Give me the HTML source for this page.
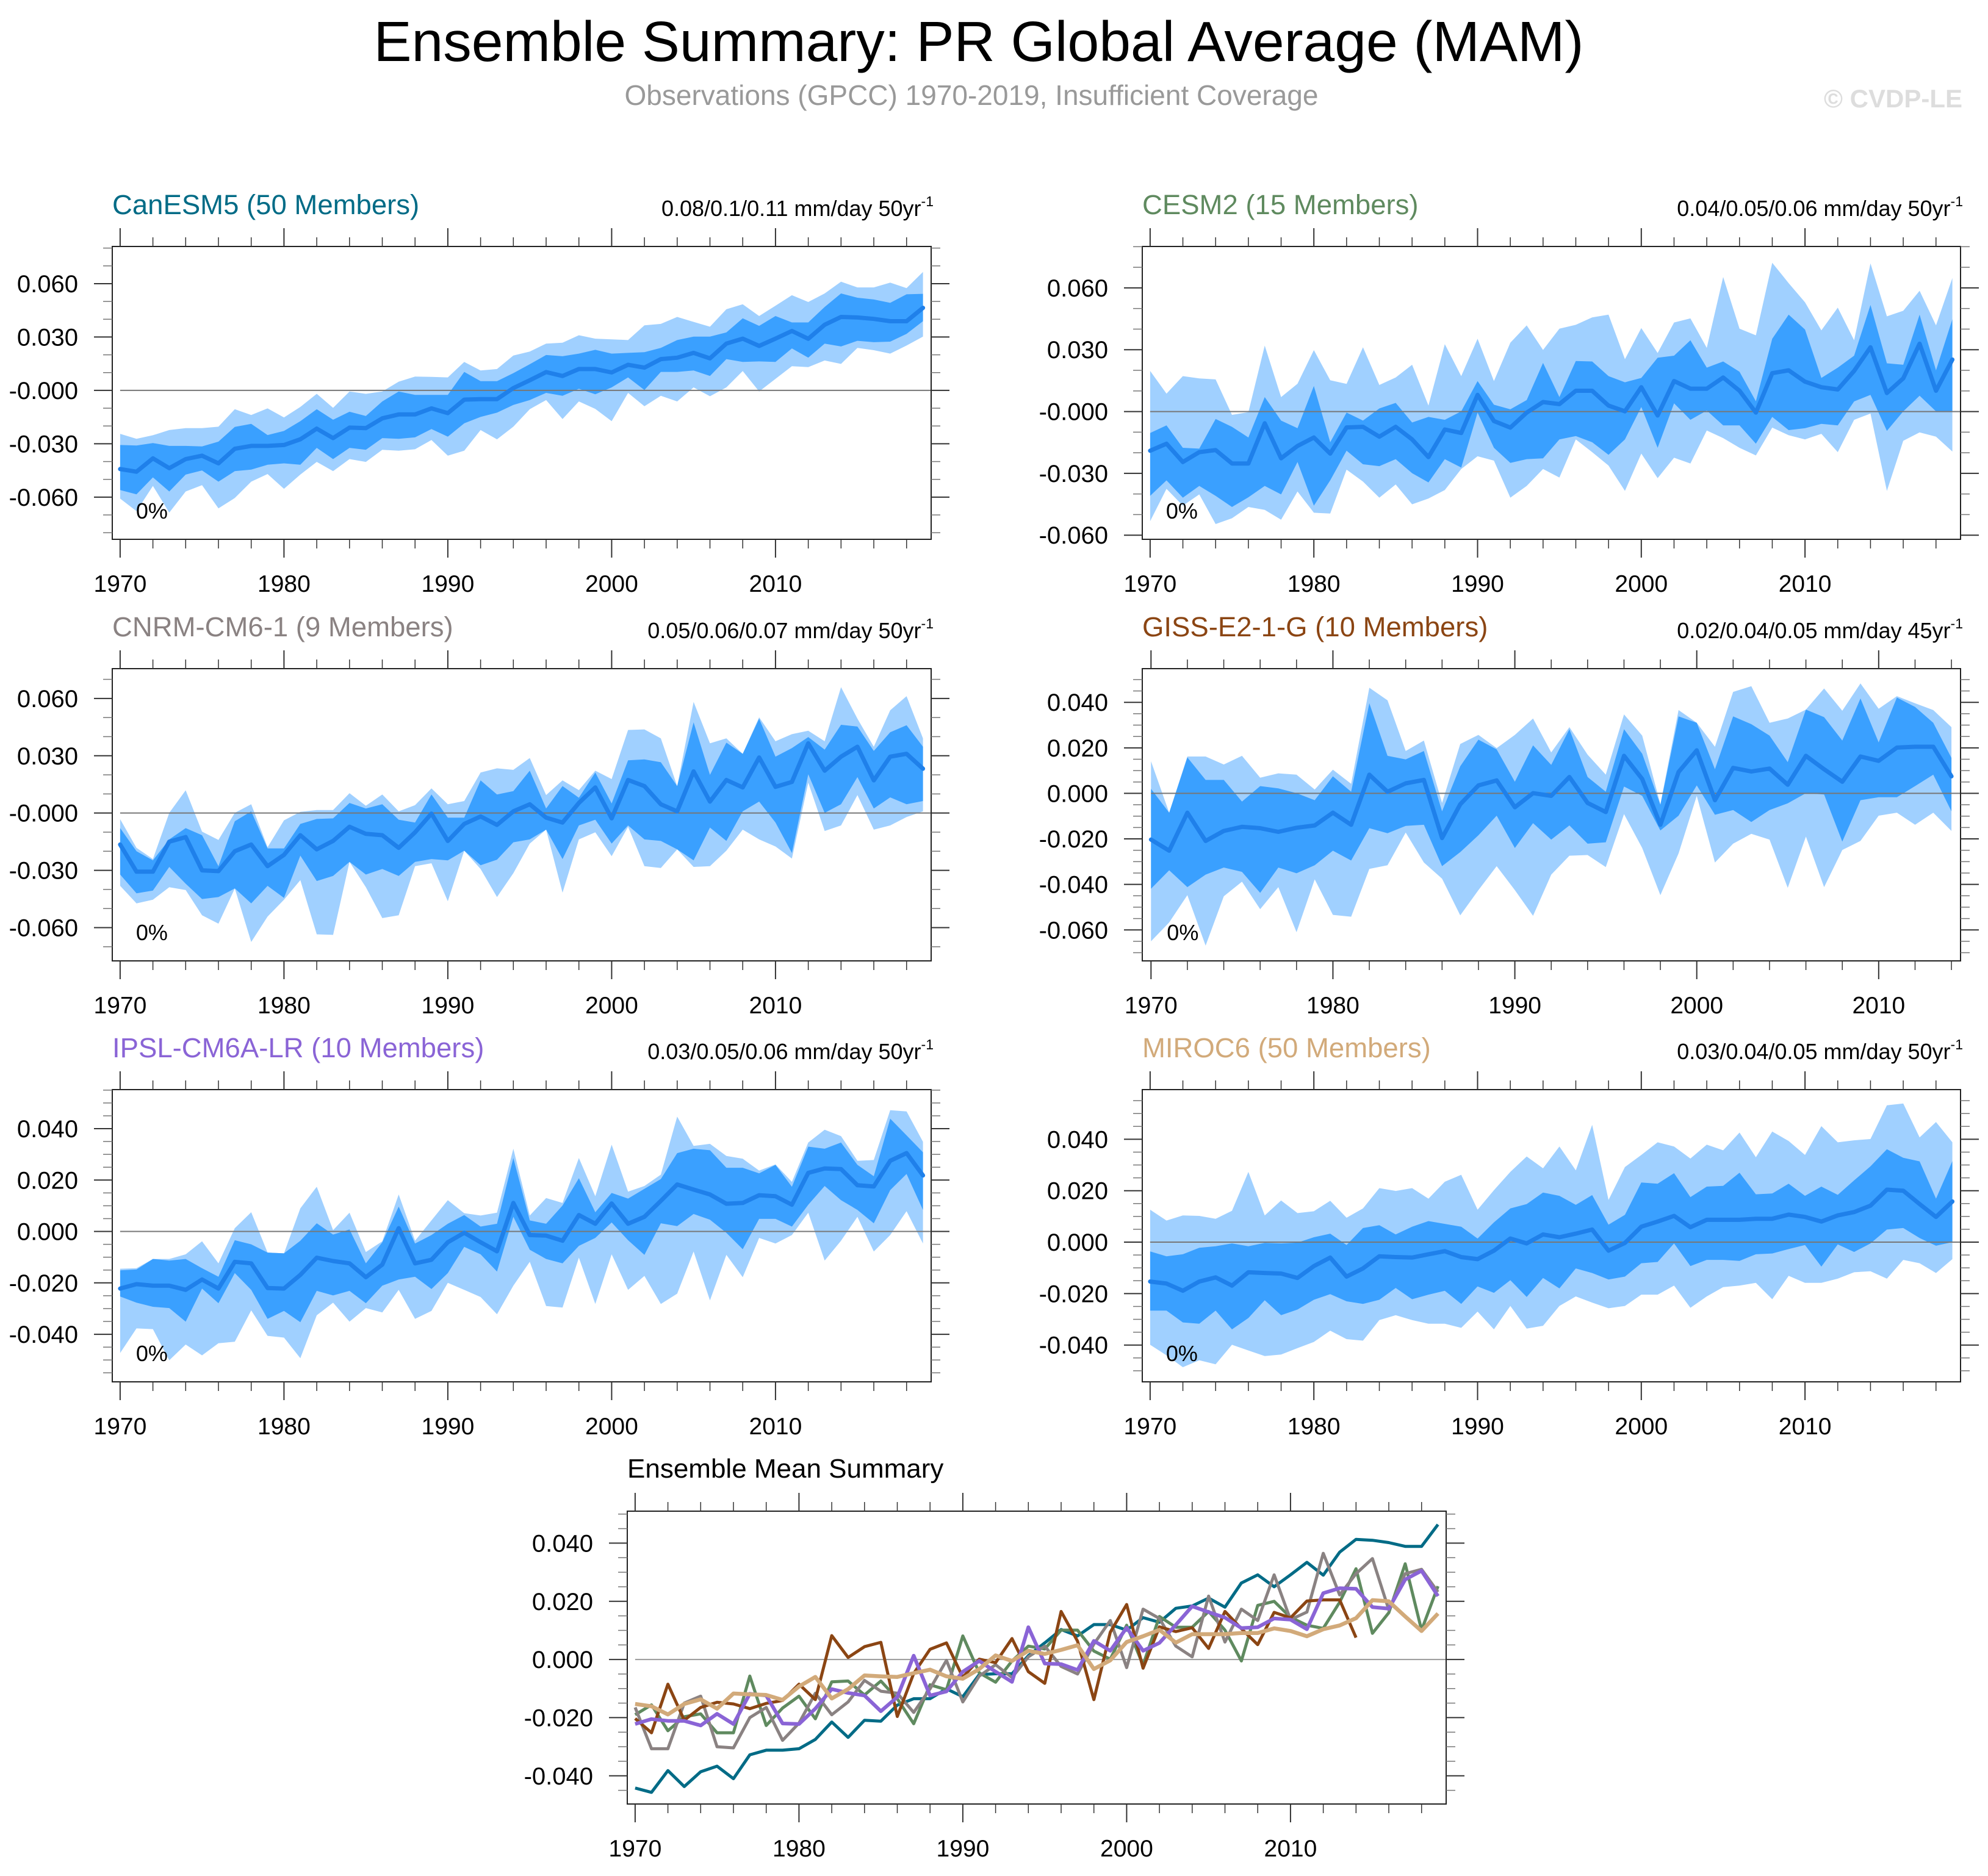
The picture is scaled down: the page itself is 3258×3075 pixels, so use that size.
<!DOCTYPE html>
<html><head><meta charset="utf-8"><title>Ensemble Summary: PR Global Average (MAM)</title>
<style>html,body{margin:0;padding:0;background:#fff}svg{display:block;font-family:"Liberation Sans",Arial,sans-serif}</style>
</head><body>
<svg id="chart" xmlns="http://www.w3.org/2000/svg" width="3258" height="3075" viewBox="0 0 3258 3075">
<rect x="0" y="0" width="3258" height="3075" fill="#fff"/>
<text x="1604" y="100" font-size="93" text-anchor="middle" fill="#000">Ensemble Summary: PR Global Average (MAM)</text>
<text x="1592" y="172" font-size="46" text-anchor="middle" fill="#999">Observations (GPCC) 1970-2019, Insufficient Coverage</text>
<text x="3216" y="176" font-size="42" font-weight="bold" text-anchor="end" fill="#ddd">© CVDP-LE</text>
</svg>
<script>
// Values in 1e-3 mm/day
const years = [1970,1971,1972,1973,1974,1975,1976,1977,1978,1979,1980,1981,1982,1983,1984,1985,1986,1987,1988,1989,1990,1991,1992,1993,1994,1995,1996,1997,1998,1999,2000,2001,2002,2003,2004,2005,2006,2007,2008,2009,2010,2011,2012,2013,2014,2015,2016,2017,2018,2019];
const xTickLabels = ["1970","1980","1990","2000","2010"];

const canMean = [-44.2,-45.7,-38.2,-43.7,-38.6,-36.7,-41.0,-32.8,-31.2,-31.2,-30.7,-27.5,-21.5,-26.8,-20.9,-21.2,-15.7,-13.5,-13.5,-10.1,-12.8,-5.2,-4.9,-4.9,1.3,5.7,10.3,8.1,12.0,12.0,10.1,14.4,12.8,17.6,18.4,21.1,18.0,26.3,29.1,25.0,29.1,33.4,29.0,36.9,41.3,41.0,40.2,38.9,38.9,46.4];
const canInHi = [-30.7,-31,-29.6,-31.2,-31.2,-31.5,-28.8,-20.5,-18.8,-25.1,-22.8,-17.3,-10.6,-16.5,-12,-14.4,-6.2,-0.6,-2.5,-2.5,-2.5,10.4,5.2,5.2,9.7,14.7,19.9,19.2,20.7,22.8,20.7,21.1,21.5,23.9,28.3,30.2,30.2,32.6,40.5,36.3,41.8,38.2,38.2,46.9,54.5,52.1,51.1,49.2,54,54.3];
const canInLo = [-56,-58.4,-48.9,-56.8,-47.3,-45,-51.3,-45.4,-44.5,-41.8,-41,-41.8,-32.3,-38.6,-32.3,-33.4,-26.8,-27.2,-26.4,-21.7,-26,-18.5,-14.9,-12.5,-8.2,-5.4,-1.4,-3,0.9,-2.2,1.7,7.3,0.2,10.4,10.4,11.2,8.1,17.6,16,16.3,16,23.6,18.4,26.3,24.7,27.9,27.1,27.4,31.8,38.9];
const canOutHi = [-24.4,-27.2,-25.2,-22.3,-21.2,-21.2,-20.4,-10.6,-13.8,-10.1,-15.2,-9.3,-1.9,-9.8,-0.6,-1.9,-0.6,4.9,7.8,7.6,7.3,16,11.2,12,19.6,21.8,26.3,26.8,31,29.1,28.7,28.3,36.6,37.4,41.3,38.5,35.8,45.6,48.4,41.8,47.6,53.5,49.7,54.5,61.1,57.9,57.9,60.6,57.5,66.6];
const canOutLo = [-60.8,-67.9,-53.7,-68.7,-56.8,-53.3,-66.3,-60.5,-51.3,-47,-55.3,-47.3,-40.2,-45.4,-38.6,-40.2,-33.4,-33.9,-33.1,-27.9,-36.7,-33.9,-22.3,-27.5,-20.4,-10.6,-5.4,-16.1,-6.2,-10.4,-17.3,-1.4,-8.9,-3,-6.2,1.7,-3.3,1.7,10.9,-0.6,6.5,13.6,13.1,16.8,14.9,23.9,22.6,20.7,25.2,30.2];

const cesmMean = [-19,-15.6,-24.5,-19.7,-18.7,-25.2,-25.2,-5.7,-22.7,-16.7,-12.6,-20.4,-7.7,-7.4,-12.2,-7.4,-13.5,-22.1,-8.7,-10.4,8.1,-4.6,-7.8,-0.5,4.6,3.6,10.1,10.1,2.9,0.1,11.8,-1.9,14.8,11.1,11.1,16.5,10.1,-0.5,18.6,20,14.5,11.8,10.7,19.7,31.2,9,16.1,32.9,10.1,25.2];
const cesmInHi = [-10.4,-6.7,-17.6,-18,-3.6,-7.4,-12.6,7,-4.4,-8.1,12.4,-14.9,-0.5,-4.4,1.5,4.2,-5.3,-2.6,-4,0.1,14.8,3.3,1.1,5.6,23.6,7,24.5,24.3,17.2,14.2,16.3,26.1,27.1,34.6,21.3,24.3,19.3,5,35.3,47,39.8,16.3,21.3,27.1,51.7,23.4,22.7,47,20,44.8];
const cesmInLo = [-40.9,-33.4,-41.8,-36.1,-40.9,-46.3,-41.6,-36.1,-40.2,-24.5,-45.7,-33.4,-19,-25.6,-26.5,-23.1,-29.9,-34.4,-23.1,-27.2,-0.5,-17.6,-24.9,-23.1,-22.7,-13.5,-11.9,-14.9,-21,-13.5,2.2,-17.6,4,-4,0.5,-6.7,-6.7,-15.6,-2.6,-9,-8.1,-6,-6.7,4.9,8.1,-9.4,0.1,7.7,0.1,0.1];
const cesmOutHi = [19.7,8.7,17.2,16.1,15.6,-1.6,-0.3,32,7,13.5,29.8,15.2,13.4,31.2,12.9,16.5,22.7,2.9,32.7,17.2,35.3,14.8,33.4,41.8,29.9,40.2,42.1,45.7,47,25.4,40.5,28.4,43.2,45.2,30.9,65.3,40.2,37,72.2,62.3,53,39.4,50.4,34.6,71.9,46.2,48.9,58.6,41.8,64.8];
const cesmOutLo = [-53.2,-37.5,-45.7,-40.2,-54.6,-51.8,-46.3,-47.7,-52.5,-38.8,-49.1,-49.5,-28.2,-34,-41.8,-35.4,-45,-42.2,-38.1,-27.9,-21.7,-23.8,-41.8,-36.1,-27.9,-32,-13.5,-19.7,-26.2,-38.5,-20.4,-32.3,-22.4,-25.2,-9.2,-12.9,-17.6,-21.3,-7.8,-11.5,-13.5,-10.8,-19.7,-4,-1,-38.5,-14.2,-10.1,-12.2,-19.4];

const cnrmMean = [-16.5,-30.7,-30.7,-15,-12.6,-30,-30.4,-20,-16.5,-27.8,-21.9,-11.6,-19,-14.6,-7.2,-10.9,-11.6,-18.2,-10.1,-0.3,-14.6,-5.7,-1.8,-6.2,0.9,4.6,-2.4,-5,5.3,13.4,-2.8,17.3,14.1,4.6,0.9,21.8,6,17.3,13.4,29.1,13.7,16.3,36.5,22.2,29.5,34.7,17.1,29.5,31,23.2];
const cnrmInHi = [-7.9,-20,-24.8,-13.8,-7.9,-11.6,-27.8,-4.3,0.9,-18.5,-18.5,-5.7,-3.1,-2.8,5.3,2.4,4.6,-3.5,-5,9.7,-2.4,-2.4,17.1,9.7,11.5,22.2,2.4,14.1,8,21.2,5,27.6,28.1,26.6,14.1,47.5,20,36.9,31,49.4,29.5,34,39.8,33.2,46.2,45.3,32.5,42.3,46,34.7];
const cnrmInLo = [-32.2,-42,-40.6,-28.2,-37,-45,-44,-39.5,-47.3,-38.1,-44.4,-22.3,-35.6,-32.9,-25.6,-32.2,-29.3,-32.9,-25.6,-24.1,-24.8,-19.7,-27.3,-24.4,-15.3,-13.8,-8.7,-24.1,-6.5,-3.5,-16,-6.5,-13.8,-14.6,-19,-24.8,-7.6,-14.6,0.9,6,-5,-20.9,20.3,0.1,4.6,18.8,2.4,8.2,4.6,6.3];
const cnrmOutHi = [-3.2,-18.2,-24.1,0.1,11.9,-9.7,-14.1,0.1,4.6,-17.9,-3.8,0.6,1.6,1.6,10.4,3.8,9.7,0.9,4.1,12.9,4.6,6.3,21.2,23.4,22.6,28.8,9.4,17.1,12,22.2,17.8,43.5,43.8,39.1,14.1,58.2,36.5,39.1,31,50.1,37.6,41.3,43.1,37.6,65.9,49.4,34.7,53.8,61.2,39.1];
const cnrmOutLo = [-38.1,-47.3,-45.4,-38.8,-40.3,-53.5,-57.9,-39.5,-67.5,-54.2,-45.4,-35.1,-63.5,-63.8,-25.6,-38.8,-55,-53.5,-27.8,-26.3,-46.2,-19.7,-29.3,-44,-31.5,-16,-8.7,-41.7,-13.8,-10.1,-22.6,-7.2,-27.8,-28.8,-19,-28.2,-27.8,-19.7,-8.7,-13.8,-17.5,-23.8,15.9,-9.4,-6.5,9.4,-8.7,-6.5,-2.1,0.9];

const gissMean = [-20.3,-25.2,-8.5,-20.9,-16.5,-14.7,-15.3,-16.9,-15.1,-14.1,-8.5,-13.8,8.2,0.7,4.4,5.9,-19.6,-4.8,3.5,5.7,-6.1,0.1,-1.1,7.2,-4.2,-8.2,16.5,6.3,-13.8,9.4,18.9,-3,11.2,9.6,10.9,3.8,16.5,10.6,5.1,16.2,14.3,20.1,20.5,20.5,7.5];
const gissInHi = [2,-8.5,15.8,5.9,5.9,-3.6,3.2,2.2,0.1,-3,7.5,0.7,39.6,16.5,14.9,18.6,-7.9,11.9,23.6,19.3,5.1,21.1,12.5,28.2,7.2,0.7,28.2,17.4,-5,33.8,31,10.6,33.8,30.4,25.4,13.7,36.8,33.5,23.2,41.7,22.4,42.1,38,31,15.6];
const gissInLo = [-41.9,-33.8,-41.2,-35.7,-32.6,-34.5,-43.7,-32.6,-35.1,-31.6,-25.2,-29.5,-15.3,-17.5,-14.3,-13.8,-32,-25.8,-18.4,-9.8,-24,-13.1,-20.3,-14.1,-22.1,-21.5,3,-1.1,-16.3,-9.8,3.5,-9.4,-7.3,-12.6,-7.3,-4.4,0.1,-0.5,-21.2,-3,-1.7,-1.7,3.2,8.2,-7.9];
const gissOutHi = [14.1,-8.5,16.2,16.2,12.7,16.5,6.9,8.8,8.2,1.7,10.4,4.2,46.4,40.9,18.6,23.2,-4.2,21.7,25.7,19.9,25.7,32.9,18,29.1,17,8.2,34.7,25.4,-4.8,36.6,31,20.5,44.6,47.1,31,32.9,36.8,46.1,36.3,48.3,37.2,42.7,39.6,36.6,29.1];
const gissOutLo = [-65,-56.7,-44.7,-66.9,-45.2,-38.8,-50.9,-41.2,-61,-37.8,-53.4,-54.2,-33.2,-31.6,-17.2,-30.4,-37.5,-53.6,-42.5,-32,-42.5,-53.8,-35.7,-27.4,-27.1,-32.4,-9.1,-24,-44.7,-26.4,-1.1,-30.4,-22.1,-17.8,-20.3,-41.5,-19,-41.2,-24.9,-20.9,-9.8,-8.5,-13.8,-8.5,-16.5];

const ipslMean = [-22.2,-20.5,-21.1,-21.1,-22.7,-18.7,-22.2,-11.8,-12.4,-22,-22.2,-16.9,-10.2,-11.5,-12.4,-17.8,-12.9,1.3,-12.4,-11,-4.2,-0.5,-4.2,-7.7,11.1,-1.4,-1.6,-3.6,6.4,3,10.9,3,5.7,11.9,18.3,16.3,14.4,10.8,11.1,14.1,13.7,10.4,22.8,24.5,24.3,18,17.5,27.5,30.5,21.8];
const ipslInHi = [-15.1,-14.8,-10.7,-11.3,-10.7,-14.3,-17.6,-3.4,-5,-8.2,-8.5,-3.6,3.2,-1.2,0.8,-12.4,-4.2,9.7,-4.7,-1.4,3,6.4,1.9,3,28.6,4.3,3,10.1,20.7,7.5,15,12.8,16.6,20.4,30.5,32.2,31.6,24.8,24.8,22.6,25.9,17.4,33,32.2,34.6,25.9,21.5,43.9,37.4,30.8];
const ipslInLo = [-25.3,-27.7,-29.3,-29.8,-35.1,-22.2,-27.9,-16.2,-22.7,-34,-30.9,-35.3,-23.1,-24.9,-23.1,-27.9,-21.1,-18.7,-17.6,-22.4,-16.2,-6,-8.9,-15.6,5.7,-7.1,-10.7,-12.4,-5.6,-2.5,3.5,-3.4,-9.1,3.2,2.1,6.8,4.6,-0.5,-6.9,4.9,4.9,1.9,10.4,17.7,12.2,8.4,3.2,16.1,22.4,8.4];
const ipslOutHi = [-14.5,-14.3,-10.7,-10.7,-8.9,-3.8,-12.4,1.3,7.5,-8.2,-8.5,9,17.4,0.5,7.3,-8,-3.8,14.4,-3.6,4.3,12.2,7.1,6.2,7.3,32.2,6.2,13,11.1,28.6,13.7,33.8,15.5,17.7,22.1,44.7,33.3,34.1,29.4,28.3,23.7,26.1,19.3,34.6,39.6,37.1,27.5,27.8,47.2,46.7,34.9];
const ipslOutLo = [-47.3,-37.7,-38,-50.1,-44,-48.2,-43.5,-42.9,-30.7,-40.6,-41.3,-49.3,-32.6,-27.7,-35.1,-29.8,-31.5,-22.7,-34,-30.9,-20,-22.7,-25.5,-32.2,-21.1,-11.8,-29,-29.6,-10.2,-28.2,-8.9,-22.7,-17.3,-28.2,-24.2,-7.8,-26.8,-9.1,-17.8,-2.5,-4.7,-1.4,7.3,-11.3,-3.6,5.7,-7.8,-1.4,7.9,-4.7];

const mirocMean = [-15.3,-16.1,-18.9,-15.3,-13.7,-16.9,-11.7,-12,-12.2,-13.9,-9.3,-6,-13.4,-10.2,-5.5,-5.8,-6,-4.7,-3.5,-5.8,-6.6,-3.3,1.4,-0.5,3,1.9,3.3,4.9,-3.3,-0.3,6,8,10.2,5.8,8.7,8.7,8.7,9.1,9.1,10.7,9.8,8,10.4,11.7,14.2,20.4,20,14.8,9.8,15.8];
const mirocInHi = [-3.6,-5.5,-4.7,-2.2,-1.6,-0.5,-1.6,-0.3,-0.5,-0.2,1.9,3.3,-1.1,5.5,6.6,3,6,8.2,7.1,6,1.4,7.7,13.1,14.8,19.3,18,14.5,18.3,6.8,10.6,23.2,22.7,26.8,17.5,21.6,21.9,27,18.6,18.9,22.7,18,21.6,18.4,24,29.5,36.1,32.8,31.4,16.9,31.5];
const mirocInLo = [-26.6,-26.6,-31.2,-31.7,-26.6,-33.9,-29.5,-22.6,-28.4,-26.2,-22.4,-20.2,-23,-24,-22.4,-17.8,-22.2,-20.4,-18.9,-24,-17.2,-19.7,-14.8,-21.3,-13.9,-18,-10.2,-12,-14.5,-13.4,-8.2,-7.7,-0.5,-9.3,-6.9,-6.9,-7.3,-4.7,-4.4,-2.7,-1.1,-9.5,-0.9,-3.8,-0.5,4.9,5.5,1.6,-1.4,0];
const mirocOutHi = [12.6,8.4,10.4,10.2,9.1,12.2,27.3,10.4,16.2,11.3,12,16.1,9.5,13.1,21,19.9,21,16.9,23.5,26.2,12.6,20.2,27.3,33.3,28.7,37.2,27.9,45.6,16.4,29.2,33.9,38.8,37.2,32.5,37.9,35.7,42.6,33,43,39.3,33.9,45.1,38.8,39.6,40.1,53.2,53.9,40.7,46.7,38.8];
const mirocOutLo = [-39.9,-44,-48.6,-45.9,-47.5,-39.9,-42.1,-44.3,-43.7,-41.2,-38.8,-34.4,-37.7,-38.3,-30.3,-28.4,-30.3,-31.7,-31.7,-33.3,-27,-33.9,-24.8,-33.6,-32.5,-24.8,-21.1,-23.5,-25.7,-24.8,-20.4,-20.4,-16.9,-25.5,-21.1,-17.5,-16.9,-15.8,-22.2,-13.1,-15.8,-15.8,-14.2,-11.7,-11.3,-14.2,-6.9,-8.2,-12,-6.6];

const ticks3 = [60,30,0,-30,-60];
const ticks3Labels = ["0.060","0.030","-0.000","-0.030","-0.060"];
const ticks2 = [40,20,0,-20,-40,-60];
const ticks2Labels = ["0.040","0.020","0.000","-0.020","-0.040","-0.060"];
const ticksB = [40,20,0,-20,-40];
const ticksBLabels = ["0.040","0.020","0.000","-0.020","-0.040"];

const NS = "http://www.w3.org/2000/svg";
const svg = document.getElementById('chart');
function el(tag, attrs, parent, text){
  const e = document.createElementNS(NS, tag);
  for (const k in attrs) e.setAttribute(k, attrs[k]);
  if (text !== undefined) e.textContent = text;
  (parent || svg).appendChild(e);
  return e;
}
const LIGHT = "#a0d0ff", DARK = "#3aa0ff", MEANC = "#1f80ea";

const panels = [
  {name:"canesm5", title:"CanESM5 (50 Members)", color:"#006b86", note:"0.08/0.1/0.11 mm/day 50yr", L:184, T:404, R:1526, B:884, ymin:-83.7, ymax:80.9, ticks:ticks3, labels:ticks3Labels, minor:10, mean:canMean, inHi:canInHi, inLo:canInLo, outHi:canOutHi, outLo:canOutLo},
  {name:"cesm2", title:"CESM2 (15 Members)", color:"#5f8a5f", note:"0.04/0.05/0.06 mm/day 50yr", L:1872, T:404, R:3213, B:884, ymin:-62.0, ymax:80.1, ticks:ticks3, labels:ticks3Labels, minor:10, mean:cesmMean, inHi:cesmInHi, inLo:cesmInLo, outHi:cesmOutHi, outLo:cesmOutLo},
  {name:"cnrm-cm6-1", title:"CNRM-CM6-1 (9 Members)", color:"#8a8282", note:"0.05/0.06/0.07 mm/day 50yr", L:184, T:1096, R:1526, B:1575, ymin:-77.4, ymax:75.6, ticks:ticks3, labels:ticks3Labels, minor:10, mean:cnrmMean, inHi:cnrmInHi, inLo:cnrmInLo, outHi:cnrmOutHi, outLo:cnrmOutLo},
  {name:"giss-e2-1-g", title:"GISS-E2-1-G (10 Members)", color:"#8b4513", note:"0.02/0.04/0.05 mm/day 45yr", L:1872, T:1096, R:3213, B:1575, ymin:-73.6, ymax:54.8, ticks:ticks2, labels:ticks2Labels, minor:5, mean:gissMean, inHi:gissInHi, inLo:gissInLo, outHi:gissOutHi, outLo:gissOutLo},
  {name:"ipsl-cm6a-lr", title:"IPSL-CM6A-LR (10 Members)", color:"#8a64d6", note:"0.03/0.05/0.06 mm/day 50yr", L:184, T:1786, R:1526, B:2265, ymin:-58.5, ymax:55.2, ticks:ticks2.slice(0,5), labels:ticks2Labels.slice(0,5), minor:5, mean:ipslMean, inHi:ipslInHi, inLo:ipslInLo, outHi:ipslOutHi, outLo:ipslOutLo},
  {name:"miroc6", title:"MIROC6 (50 Members)", color:"#d2aa7a", note:"0.03/0.04/0.05 mm/day 50yr", L:1872, T:1786, R:3213, B:2265, ymin:-54.3, ymax:59.3, ticks:ticks2.slice(0,5), labels:ticks2Labels.slice(0,5), minor:5, mean:mirocMean, inHi:mirocInHi, inLo:mirocInLo, outHi:mirocOutHi, outLo:mirocOutLo}
];

function drawAxes(g, p, xs, ys, lastYear){
  const TK = "#333";
  for (let yr = 1970; yr <= lastYear; yr += 2) {
    const major = (yr % 10 === 0);
    const len = major ? 30 : 15;
    const x = xs(yr);
    const t1 = el('line', {x1:x, y1:p.B, x2:x, y2:p.B+len, stroke:TK, 'stroke-width':major?2:1.5}, g);
    
    
    const t2 = el('line', {x1:x, y1:p.T, x2:x, y2:p.T-len, stroke:TK, 'stroke-width':major?2:1.5}, g);
    
    
  }
  xTickLabels.forEach(lbl => {
    const yr = +lbl;
    if (yr > lastYear) return;
    const t = el('text', {x:xs(yr), y:p.B+86, 'font-size':39, 'text-anchor':'middle', fill:'#000'}, g, lbl);
    
    
  });
  const start = Math.ceil(p.ymin / p.minor) * p.minor;
  for (let v = start; v <= p.ymax; v += p.minor) {
    if (p.ticks.indexOf(v) >= 0) continue;
    const y = ys(v);
    const a = el('line', {x1:p.L-15, y1:y, x2:p.L, y2:y, stroke:'#777', 'stroke-width':1.5}, g);
    
    
    const b = el('line', {x1:p.R, y1:y, x2:p.R+15, y2:y, stroke:'#777', 'stroke-width':1.5}, g);
    
    
  }
  p.ticks.forEach((v, i) => {
    const y = ys(v);
    const a = el('line', {x1:p.L-30, y1:y, x2:p.L, y2:y, stroke:TK, 'stroke-width':2}, g);
    
    
    const b = el('line', {x1:p.R, y1:y, x2:p.R+30, y2:y, stroke:TK, 'stroke-width':2}, g);
    
    
    const t = el('text', {x:p.L-56, y:y+14, 'font-size':40, 'text-anchor':'end', fill:'#000'}, g, p.labels[i]);
    
    
  });
}

panels.forEach(p => {
  const g = el('g', {});
  
  
  const n = p.mean.length;
  const first = years[0], last = years[n-1];
  const x0 = first - 0.48, x1 = last + 0.5;
  const xs = yr => p.L + (yr - x0) / (x1 - x0) * (p.R - p.L);
  const ys = v => p.T + (p.ymax - v) / (p.ymax - p.ymin) * (p.B - p.T);
  function band(hi, lo, fill, nm){
    let pts = [];
    for (let i = 0; i < n; i++) pts.push(xs(years[i]).toFixed(1) + ',' + ys(hi[i]).toFixed(1));
    for (let i = n-1; i >= 0; i--) pts.push(xs(years[i]).toFixed(1) + ',' + ys(lo[i]).toFixed(1));
    const e = el('polygon', {points:pts.join(' '), fill:fill}, g);
    
    
  }
  band(p.outHi, p.outLo, LIGHT, 'outer-range-band');
  band(p.inHi, p.inLo, DARK, 'inner-range-band');
  const z = el('line', {x1:xs(first), y1:ys(0), x2:p.R, y2:ys(0), stroke:'#777', 'stroke-width':2}, g);
  
  
  const pts = [];
  for (let i = 0; i < n; i++) pts.push(xs(years[i]).toFixed(1) + ',' + ys(p.mean[i]).toFixed(1));
  const ml = el('polyline', {points:pts.join(' '), fill:'none', stroke:MEANC, 'stroke-width':7, 'stroke-linejoin':'round', 'stroke-linecap':'round'}, g);
  
  
  const fr = el('rect', {x:p.L, y:p.T, width:p.R-p.L, height:p.B-p.T, fill:'none', stroke:'#222', 'stroke-width':2}, g);
  
  
  drawAxes(g, p, xs, ys, last);
  const pc = el('text', {x:xs(first)+26, y:p.B-34, 'font-size':36, fill:'#000'}, g, '0%');
  
  
  const tt = el('text', {x:p.L, y:p.T-53, 'font-size':45.5, fill:p.color}, g, p.title);
  
  
  const nt = el('text', {x:p.R+4, y:p.T-50, 'font-size':36, 'text-anchor':'end', fill:'#000'}, g);
  
  
  el('tspan', {}, nt, p.note);
  el('tspan', {'font-size':23, dy:-16}, nt, '-1');
});

const summarySeries = [
  {name:"canesm5", color:"#006b86", w:5, data:canMean},
  {name:"cesm2", color:"#5f8a5f", w:5, data:cesmMean},
  {name:"cnrm-cm6-1", color:"#8a8282", w:5, data:cnrmMean},
  {name:"giss-e2-1-g", color:"#8b4513", w:5, data:gissMean},
  {name:"ipsl-cm6a-lr", color:"#8a64d6", w:6, data:ipslMean},
  {name:"miroc6", color:"#d2aa7a", w:6.5, data:mirocMean}
];
(function(){
  const p = {L:1028, T:2477, R:2370, B:2957, ymin:-49.7, ymax:51.0, ticks:ticksB, labels:ticksBLabels, minor:5};
  const g = el('g', {});
  
  
  const x0 = 1970 - 0.48, x1 = 2019.5;
  const xs = yr => p.L + (yr - x0) / (x1 - x0) * (p.R - p.L);
  const ys = v => p.T + (p.ymax - v) / (p.ymax - p.ymin) * (p.B - p.T);
  const z = el('line', {x1:xs(1970), y1:ys(0), x2:p.R, y2:ys(0), stroke:'#999', 'stroke-width':2}, g);
  
  
  summarySeries.forEach(s => {
    const pts = [];
    for (let i = 0; i < s.data.length; i++) pts.push(xs(years[i]).toFixed(1) + ',' + ys(s.data[i]).toFixed(1));
    const l = el('polyline', {points:pts.join(' '), fill:'none', stroke:s.color, 'stroke-width':s.w, 'stroke-linejoin':'round'}, g);
    
    
  });
  const fr = el('rect', {x:p.L, y:p.T, width:p.R-p.L, height:p.B-p.T, fill:'none', stroke:'#222', 'stroke-width':2}, g);
  
  
  drawAxes(g, p, xs, ys, 2019);
  const tt = el('text', {x:1028, y:2422, 'font-size':44, fill:'#000'}, g, 'Ensemble Mean Summary');
  
  
})();
</script>
</body></html>
